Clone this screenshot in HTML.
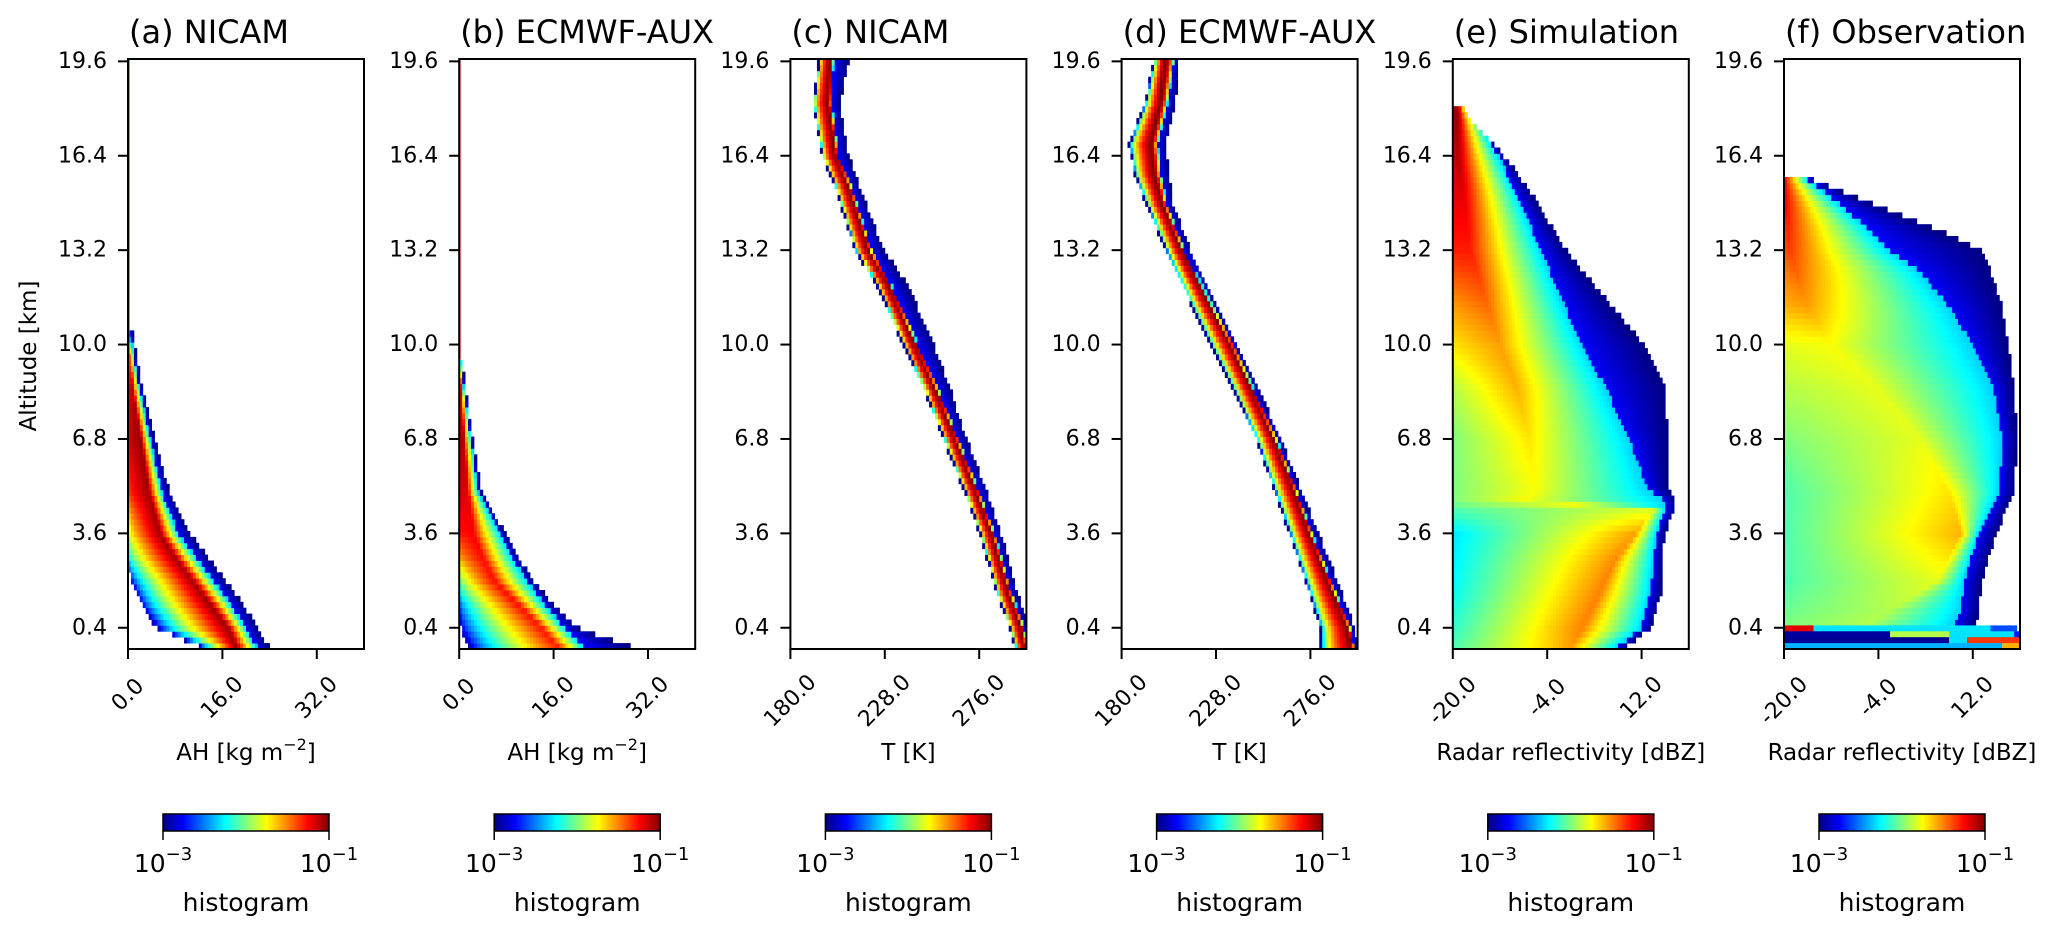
<!DOCTYPE html>
<html>
<head>
<meta charset="utf-8">
<style>
  html,body{margin:0;padding:0;background:#fff;}
  svg{display:block;}
  text{font-family:"DejaVu Sans","Liberation Sans",sans-serif;fill:#000;}
</style>
</head>
<body>
<svg id="fig" width="2067" height="938" viewBox="0 0 2067 938" xmlns="http://www.w3.org/2000/svg">
  <rect x="0" y="0" width="2067" height="938" fill="#fff"/>
</svg>
<script>
// ---------- Panel data (keyframes) ----------
// Panel (a) NICAM AH
const altA   = [-0.3, 0.4, 1.2, 2.0, 2.8, 3.6, 5.0, 6.8, 8.5, 9.6, 10.4];
const leftA  = [13, 5, 2.5, 0.8, 0, 0, 0, 0, 0, 0, 0];
const peakA  = [18.5, 17, 14, 11, 8, 5.5, 3.6, 2.2, 0.8, 0.4, 0.2];
const blueA  = [22, 20, 17.5, 14.5, 11.5, 8.5, 5.8, 3.8, 2, 1, 0.5];
const rightA = [24, 22, 19.5, 16.5, 13.5, 10.5, 7, 4.5, 2.5, 1.4, 0.8];
const vLeftA = [0.05, 0.05, 0.1, 0.15, 0.35, 0.55, 0.8, 0.9, 0.9, 0.8, 0.1];
const vPeakA = [0.98, 0.98, 0.98, 0.97, 0.97, 0.97, 0.97, 0.98, 0.95, 0.8, 0.1];
// Panel (b) ECMWF-AUX AH
const altB   = [-0.3, 0.4, 1.2, 2.0, 2.8, 3.6, 5.0, 6.8, 8.5, 9.4];
const leftB  = [2, 0.5, 0, 0, 0, 0, 0, 0, 0, 0];
const peakB  = [17, 14, 10, 6, 4, 2.5, 1.5, 0.8, 0.3, 0.1];
const blueB  = [21.5, 18, 14.5, 11.5, 9, 7, 3.2, 2, 0.8, 0.3];
const rightB = [30, 20, 16, 12.5, 10, 7.8, 3.8, 2.3, 1.1, 0.5];
const vLeftB = [0.05, 0.1, 0.2, 0.45, 0.7, 0.85, 0.92, 0.95, 0.9, 0.5];
const vPeakB = [0.85, 0.86, 0.87, 0.87, 0.87, 0.88, 0.9, 0.95, 0.9, 0.5];
// Panel (c) NICAM T
const altC   = [-0.3, 0.4, 1.6, 3.6, 5.1, 6.8, 8.55, 10, 12, 13.2, 15.4, 16.4, 18.2, 19.7];
const leftC  = [295, 292, 285.5, 277, 268.6, 258.5, 248, 238, 224.7, 213.5, 203, 196.6, 192, 195];
const peakC  = [299, 297, 290.5, 282, 273.6, 263.5, 253, 243, 229.7, 219.5, 209, 202.6, 199, 200];
const blueC  = [300.5, 299, 292.5, 284, 275.6, 265.5, 255, 245, 231.7, 221.5, 211, 204.6, 201, 202];
const rightC = [302, 301, 295.5, 287, 279.6, 269.5, 261, 253, 239.7, 227.5, 215, 209.6, 205, 210];
const vLeftC = [0.02, 0.02, 0.02, 0.02, 0.02, 0.02, 0.02, 0.02, 0.02, 0.02, 0.02, 0.02, 0.02, 0.02];
const vPeakC = [1, 1, 1, 1, 1, 1, 1, 1, 1, 1, 1, 1, 1, 1];
// Panel (d) ECMWF-AUX T
const altD   = [-0.3, 0.4, 1.6, 3.6, 5.1, 6.8, 8.55, 10, 11.3, 13.2, 14.8, 15.8, 16.8, 18.2, 19.7];
const leftD  = [282, 281.7, 276, 266, 258, 249, 237, 226, 216.5, 203, 193, 187, 184.4, 192.4, 197];
const peakD  = [297, 294.7, 287, 275, 267, 257, 245, 235, 224.5, 210, 200, 196, 194.4, 199.4, 202];
const blueD  = [298.5, 296.5, 289, 277, 269, 259, 247, 237, 226.5, 212, 203, 200, 198.4, 203.4, 207];
const rightD = [300, 298.7, 292, 280, 271, 261, 249, 239, 228.5, 215, 206, 204, 202.4, 207.4, 209];
const vLeftD = [0.02, 0.02, 0.02, 0.02, 0.02, 0.02, 0.02, 0.02, 0.02, 0.02, 0.02, 0.02, 0.02, 0.02, 0.02];
const vPeakD = [1, 1, 1, 1, 1, 1, 1, 1, 1, 1, 1, 1, 1, 1, 1];
// Panel (e) Simulation dBZ
const altE   = [-0.3, 0.4, 1.6, 2.7, 3.6, 4.4, 4.7, 5.1, 6.8, 8.5, 10, 11.3, 13.2, 15.05, 16.3, 17.7, 18.1];
const leftE  = [-20, -20, -20, -20, -20, -20, -20, -20, -20, -20, -20, -20, -20, -20, -20, -20, -20];
const peakE  = [0, 2, 5, 7.5, 11, 14, -8, -6, -7, -9, -12, -14, -17, -18, -19, -19, -19];
const blueE  = [7.5, 12, 13.5, 14, 14.5, 16, 16, 13, 10, 6, 2, -1, -5, -9, -12, -16, -18];
const rightE = [9, 13.6, 15.3, 15.5, 15.9, 17.5, 17.9, 16.4, 16.4, 16, 12.5, 7, -0.8, -6.4, -10.9, -17.5, -18.5];
const vLeftE = [0.45, 0.42, 0.38, 0.36, 0.35, 0.45, 0.5, 0.5, 0.5, 0.55, 0.65, 0.72, 0.85, 0.9, 0.92, 0.97, 0.97];
const vPeakE = [0.72, 0.75, 0.75, 0.74, 0.72, 0.6, 0.62, 0.62, 0.65, 0.7, 0.72, 0.77, 0.85, 0.9, 0.95, 0.97, 0.97];
// Panel (f) Observation dBZ
const altF   = [0.5, 1.0, 2.0, 3.6, 5.0, 6.8, 8.5, 10, 11.3, 12.5, 13.2, 14, 15, 15.6];
const leftF  = [-20, -20, -20, -20, -20, -20, -20, -20, -20, -20, -20, -20, -20, -20];
const peakF  = [-6, -2, 6, 10, 8, 3, -4, -12, -16, -18, -19, -19.5, -20, -20];
const blueF  = [9, 10, 10.5, 13, 16.5, 17, 15.5, 12, 8, 3, -2, -6, -12, -16];
const rightF = [12.5, 13, 13.5, 16, 19, 19.5, 19, 18, 17, 15, 13.5, 5, -8, -15];
const vLeftF = [0.5, 0.48, 0.45, 0.45, 0.45, 0.5, 0.55, 0.6, 0.7, 0.75, 0.8, 0.82, 0.85, 0.9];
const vPeakF = [0.55, 0.55, 0.6, 0.7, 0.65, 0.6, 0.6, 0.62, 0.72, 0.78, 0.82, 0.85, 0.9, 0.9];
// Panel (f) bottom stripes: segment altitude (row centre), x start, x end, level
const fSegAlt = [0.38, 0.38, 0.38, 0.18, 0.18, 0.18, 0.18, -0.02, -0.02, -0.02, -0.22, -0.22];
const fSegX0  = [-20, -15, 15, -20, -2, 8, 19, -20, 8, 11, -20, 17];
const fSegX1  = [-15, 15, 19.5, -2, 8, 19, 20, 8, 11, 20, 17, 20];
const fSegV   = [0.9, 0.35, 0.2, 0.03, 0.55, 0.35, 0.15, 0.02, 0.35, 0.82, 0.3, 0.7];

// Axes / labels
const titles   = ["(a) NICAM", "(b) ECMWF-AUX", "(c) NICAM", "(d) ECMWF-AUX", "(e) Simulation", "(f) Observation"];
const xMins    = [0, 0, 180, 180, -20, -20];
const xMaxs    = [40, 40, 300, 300, 20, 20];
const xTicksAH = [0, 16, 32];
const xTicksT  = [180, 228, 276];
const xTicksZ  = [-20, -4, 12];
const yTicks   = [0.4, 3.6, 6.8, 10.0, 13.2, 16.4, 19.6];
const yMin = -0.32, yMax = 19.68;
// ramp shape per panel (rising exponent, falling exponent)
const riseExp = [0.7, 0.7, 0.25, 0.35, 1, 1];
const fallExp = [1, 1, 2.5, 2.5, 1, 1];

// ---------- Layout ----------
const svg = document.getElementById('fig');
const NS = 'http://www.w3.org/2000/svg';
const AX_TOP = 59, AX_BOT = 649, AX_W = 236, AX_STEP = 331.2, AX_L0 = 128;
function mk(tag, attrs, parent) {
  const e = document.createElementNS(NS, tag);
  for (const k in attrs) e.setAttribute(k, attrs[k]);
  (parent || svg).appendChild(e);
  return e;
}
function yScale(v) { return AX_BOT - (v - yMin) / (yMax - yMin) * (AX_BOT - AX_TOP); }
function xScaleFor(i) {
  const l = AX_L0 + i * AX_STEP;
  return v => l + (v - xMins[i]) / (xMaxs[i] - xMins[i]) * AX_W;
}
function jet(v) {
  v = Math.max(0, Math.min(1, v));
  const c = t => Math.round(255 * Math.max(0, Math.min(1, t)));
  return `rgb(${c(1.5 - Math.abs(4 * v - 3))},${c(1.5 - Math.abs(4 * v - 2))},${c(1.5 - Math.abs(4 * v - 1))})`;
}
function lerp(a, b, t) { return a + (b - a) * t; }
function interpKey(alts, arr, a) {
  for (let k = 0; k < alts.length - 1; k++) {
    if (a >= alts[k] && a <= alts[k + 1]) {
      const t = (a - alts[k]) / (alts[k + 1] - alts[k]);
      return lerp(arr[k], arr[k + 1], t);
    }
  }
  return null;
}

const panels = [
  [altA, leftA, peakA, blueA, rightA, vLeftA, vPeakA],
  [altB, leftB, peakB, blueB, rightB, vLeftB, vPeakB],
  [altC, leftC, peakC, blueC, rightC, vLeftC, vPeakC],
  [altD, leftD, peakD, blueD, rightD, vLeftD, vPeakD],
  [altE, leftE, peakE, blueE, rightE, vLeftE, vPeakE],
  [altF, leftF, peakF, blueF, rightF, vLeftF, vPeakF]
];
const xTicksAll = [xTicksAH, xTicksAH, xTicksT, xTicksT, xTicksZ, xTicksZ];
const xLabels = ["AH", "AH", "T [K]", "T [K]", "Radar reflectivity [dBZ]", "Radar reflectivity [dBZ]"];

const ROW_H = 0.2, NXB = 80;
panels.forEach((p, i) => {
  const [alts, L, P, B, R, VL, VP] = p;
  const left = AX_L0 + i * AX_STEP;
  const xs = xScaleFor(i);
  const g = mk('g', {});
  
  
  const dx = (xMaxs[i] - xMins[i]) / NXB;
  for (let r = 0; r < 100; r++) {
    const a0 = yMin + r * ROW_H, a1 = a0 + ROW_H, ac = (a0 + a1) / 2;
    const l = interpKey(alts, L, ac);
    if (l === null) continue;
    const pk = interpKey(alts, P, ac), bl = interpKey(alts, B, ac), rt = interpKey(alts, R, ac);
    const vl = interpKey(alts, VL, ac), vp = interpKey(alts, VP, ac);
    for (let c = 0; c < NXB; c++) {
      const x0 = xMins[i] + c * dx, x1 = x0 + dx, xc = (x0 + x1) / 2;
      if (xc < l - dx / 2 || xc > rt) continue;
      let v;
      if (xc <= pk) v = pk > l ? lerp(vl, vp, Math.pow(Math.max(0, (xc - l) / (pk - l)), riseExp[i])) : vp;
      else if (xc <= bl) v = lerp(vp, 0.33, Math.pow((xc - pk) / Math.max(1e-6, bl - pk), fallExp[i]));
      else v = lerp(0.12, 0.0, (xc - bl) / Math.max(1e-6, rt - bl));
      const cell = mk('rect', {x: xs(x0).toFixed(2), y: yScale(a1).toFixed(2), width: (xs(x1) - xs(x0) + 0.4).toFixed(2), height: (yScale(a0) - yScale(a1) + 0.4).toFixed(2), fill: jet(v)}, g);
      
      
    }
  }
  if (i === 5) {
    for (let s = 0; s < fSegAlt.length; s++) {
      const a0 = fSegAlt[s] - ROW_H / 2, a1 = fSegAlt[s] + ROW_H / 2;
      const seg = mk('rect', {x: xs(fSegX0[s]).toFixed(2), y: yScale(a1).toFixed(2), width: (xs(fSegX1[s]) - xs(fSegX0[s])).toFixed(2), height: (yScale(a0) - yScale(a1) + 0.4).toFixed(2), fill: jet(fSegV[s])}, g);
      
      
    }
  }
  if (i < 2) {
    const ln = mk('line', {x1: left + 1.5, x2: left + 1.5, y1: AX_TOP, y2: yScale(9.5), stroke: '#d22', 'stroke-width': 1, opacity: 0.6});
    
    
  }
  const fr = mk('rect', {x: left, y: AX_TOP, width: AX_W, height: AX_BOT - AX_TOP, fill: 'none', stroke: '#000', 'stroke-width': 2});
  
  
  const tt = mk('text', {x: left + 1, y: 43, 'font-size': 32});
  tt.textContent = titles[i];
  
  
  yTicks.forEach(t => {
    const y = yScale(t);
    const tk = mk('line', {x1: left - 10, x2: left, y1: y, y2: y, stroke: '#000', 'stroke-width': 2});
    
    
    const lb = mk('text', {x: left - 21, y: y, 'font-size': 22, 'text-anchor': 'end', 'dominant-baseline': 'central'});
    lb.textContent = t.toFixed(1);
    
    
  });
  xTicksAll[i].forEach(t => {
    const x = xs(t);
    const tk = mk('line', {x1: x, x2: x, y1: AX_BOT, y2: AX_BOT + 10, stroke: '#000', 'stroke-width': 2});
    
    
    const s = t.toFixed(1);
    const cy = 686 + 3 * s.length;
    const lb = mk('text', {x: x, y: cy, 'font-size': 22, 'text-anchor': 'middle', 'dominant-baseline': 'central', transform: `rotate(-45 ${x} ${cy})`});
    lb.textContent = s;
    
    
  });
  const xl = mk('text', {x: left + AX_W / 2, y: 760, 'font-size': 23, 'text-anchor': 'middle'});
  
  
  if (i < 2) {
    xl.innerHTML = 'AH [kg m<tspan dy="-10" font-size="16">\u22122</tspan><tspan dy="10">]</tspan>';
  } else {
    xl.textContent = xLabels[i];
  }
  const cbL = left + 35, cbW = 166, cbT = 814, cbH = 17;
  const cb = mk('rect', {x: cbL, y: cbT, width: cbW, height: cbH, fill: 'url(#jetgrad)', stroke: '#000', 'stroke-width': 1.5});
  
  
  [[cbL, '\u22123'], [cbL + cbW, '\u22121']].forEach(([x, ex]) => {
    const tk = mk('line', {x1: x, x2: x, y1: cbT + cbH, y2: cbT + cbH + 9, stroke: '#000', 'stroke-width': 1.5});
    
    
    const lb = mk('text', {x: x, y: 872, 'font-size': 25, 'text-anchor': 'middle'});
    lb.innerHTML = '10<tspan dy="-12" font-size="18">' + ex + '</tspan>';
    
    
  });
  const hl = mk('text', {x: cbL + cbW / 2, y: 911, 'font-size': 25, 'text-anchor': 'middle'});
  hl.textContent = 'histogram';
  
  
});

const defs = mk('defs', {});
const grad = mk('linearGradient', {id: 'jetgrad', x1: 0, x2: 1, y1: 0, y2: 0}, defs);
for (let k = 0; k <= 16; k++) {
  mk('stop', {offset: (k / 16).toFixed(4), 'stop-color': jet(k / 16)}, grad);
}
svg.insertBefore(defs, svg.firstChild);

const yl = mk('text', {x: 29, y: 356, 'font-size': 23, 'text-anchor': 'middle', 'dominant-baseline': 'central', transform: 'rotate(-90 29 356)'});
yl.textContent = 'Altitude [km]';


</script>
</body>
</html>
